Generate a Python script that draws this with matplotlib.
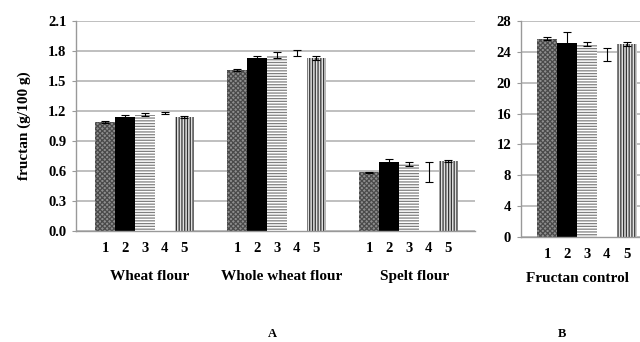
import matplotlib
matplotlib.use("Agg")
import matplotlib.pyplot as plt
import numpy as np

# fructan content per flour, methods 1-5 (g/100 g)
groups = ["Wheat flour", "Whole wheat flour", "Spelt flour"]
method_labels = ["1", "2", "3", "4", "5"]
vals_a = [
    [1.09, 1.61, 0.59],
    [1.14, 1.73, 0.69],
    [1.16, 1.76, 0.67],
    [1.18, 1.78, 0.59],
    [1.14, 1.73, 0.70],
]
errs_a = [
    [0.01, 0.01, 0.005],
    [0.015, 0.02, 0.03],
    [0.015, 0.03, 0.02],
    [0.01, 0.03, 0.10],
    [0.01, 0.02, 0.01],
]
# fructan control
control_label = "Fructan control"
vals_b = [25.7, 25.2, 25.0, 23.7, 25.0]
errs_b = [0.2, 1.4, 0.3, 0.85, 0.3]

plt.rcParams["font.family"] = ["Liberation Serif", "DejaVu Serif"]
plt.rcParams["font.weight"] = "bold"
plt.rcParams["axes.labelweight"] = "bold"
plt.rcParams["hatch.linewidth"] = 0.9

# face colour, hatch colour, hatch pattern for each method
styles = [
    ("#8e8e8e", "#4a4a4a", "xxxxxxx"),
    ("black", "black", None),
    ("white", "#808080", "------"),
    ("white", "white", None),
    ("#e0e0e0", "#353535", "||||||"),
]
width = 0.15
offsets = (np.arange(5) - 2) * width
grid_col = "#b4b4b4"


def style_axes(ax):
    ax.set_axisbelow(True)
    ax.yaxis.grid(True, color=grid_col, linewidth=1.2)
    for s in ["top", "right"]:
        ax.spines[s].set_visible(False)
    for s in ["left", "bottom"]:
        ax.spines[s].set_color("#999999")
        ax.spines[s].set_linewidth(1.0)
    ax.tick_params(axis="y", length=3, color="#999999", labelsize=10.5, pad=4)
    ax.tick_params(axis="x", length=0, labelsize=10.5, pad=8)


def draw_bars(ax, x0, vals, errs):
    for i in range(5):
        fc, hc, hatch = styles[i]
        x = x0 + offsets[i]
        ax.bar(x, vals[i], width, color=fc, edgecolor=hc, hatch=hatch,
               linewidth=0)
        ax.errorbar(x, vals[i], yerr=errs[i], fmt="none", ecolor="black",
                    elinewidth=0.8, capsize=3, capthick=0.8)


fig = plt.figure(figsize=(6.4, 3.42), dpi=100)

# panel A
ax1 = fig.add_axes([0.119, 0.3237, 0.623, 0.6158])
xg = np.arange(len(groups))
for g in range(len(groups)):
    draw_bars(ax1, xg[g], [v[g] for v in vals_a], [e[g] for e in errs_a])
ax1.set_xlim(-0.52, 2.5)
ax1.set_ylim(0, 2.1)
ax1.set_yticks(np.arange(0, 2.11, 0.3))
ax1.set_yticklabels(["%.1f" % t for t in np.arange(0, 2.11, 0.3)])
ax1.set_xticks(np.concatenate([g + offsets for g in xg]))
ax1.set_xticklabels(method_labels * len(groups))
style_axes(ax1)
ax1.set_ylabel("fructan (g/100 g)", fontsize=11, labelpad=12)
for g in range(len(groups)):
    ax1.text(xg[g] + 0.04, -0.45, groups[g], ha="center", va="center",
             fontsize=11)

# panel B
ax2 = fig.add_axes([0.814, 0.307, 0.186, 0.6316])
draw_bars(ax2, 0, vals_b, errs_b)
ax2.set_xlim(-0.5, 0.40)
ax2.set_ylim(0, 28)
ax2.set_yticks(np.arange(0, 29, 4))
ax2.set_xticks(offsets)
ax2.set_xticklabels(method_labels)
style_axes(ax2)
fig.text(578 / 640, 1 - 279 / 342, control_label, ha="center", va="center",
         fontsize=11)

fig.text(272 / 640, 1 - 334 / 342, "A", ha="center", va="center", fontsize=9)
fig.text(562 / 640, 1 - 334 / 342, "B", ha="center", va="center", fontsize=9)

fig.savefig("out.png", dpi=100)
